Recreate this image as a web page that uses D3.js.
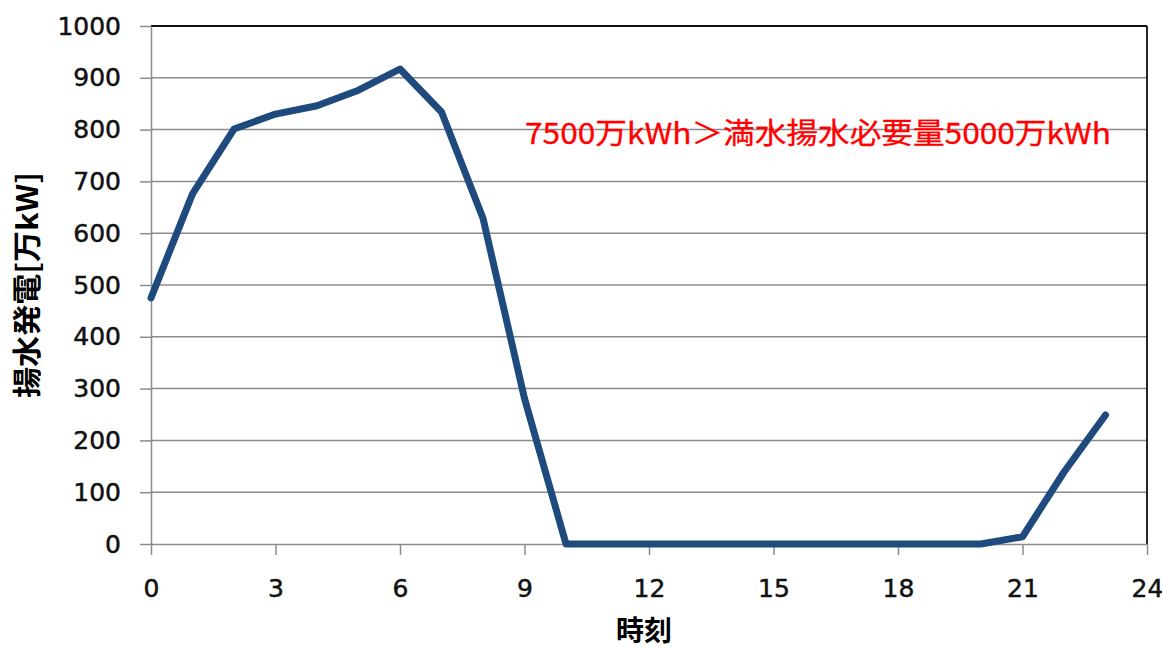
<!DOCTYPE html>
<html>
<head>
<meta charset="utf-8">
<script src="https://cdn.jsdelivr.net/npm/d3@7"></script>
<style>
  html, body { margin: 0; padding: 0; background: #ffffff; }
  svg { display: block; }
</style>
</head>
<body>
<svg id="chart" width="1162" height="649"></svg>
<script>
// Hourly pumped-storage generation output [万kW]
const hours = [0, 1, 2, 3, 4, 5, 6, 7, 8, 9, 10, 11, 12, 13, 14, 15, 16, 17, 18, 19, 20, 21, 22, 23];
const output = [475, 676, 801, 830, 846, 876, 917, 834, 629, 281, 0, 0, 0, 0, 0, 0, 0, 0, 0, 0, 0, 14, 139, 249];

const xTicks = [0, 3, 6, 9, 12, 15, 18, 21, 24];
const yTicks = [0, 100, 200, 300, 400, 500, 600, 700, 800, 900, 1000];

const yTitle = "揚水発電[万kW]";
const xTitle = "時刻";
const note = "7500万kWh＞満水揚水必要量5000万kWh";

const W = 1162, H = 649;
const margin = { left: 151, right: 15, top: 26, bottom: 105 };
const innerW = W - margin.left - margin.right;
const innerH = H - margin.top - margin.bottom;

const svg = d3.select("#chart");
const g = svg.append("g").attr("transform", `translate(${margin.left},${margin.top})`);

const x = d3.scaleLinear().domain([0, 24]).range([0, innerW]);
const y = d3.scaleLinear().domain([0, 1000]).range([innerH, 0]);

const tickFont = "'DejaVu Sans', Verdana, sans-serif";
const cjkFont = "'Noto Sans CJK JP', 'Noto Sans CJK SC', sans-serif";
const gridColor = "#8c8c8c";

// horizontal gridlines
g.append("g")
  .selectAll("line")
  .data(yTicks.filter(d => d > 0 && d < 1000))
  .join("line")
  .attr("x1", 0).attr("x2", innerW)
  .attr("y1", d => y(d)).attr("y2", d => y(d))
  .attr("stroke", gridColor).attr("stroke-width", 1.5);

// plot frame: top and right edges
g.append("line")
  .attr("x1", 0).attr("x2", innerW).attr("y1", y(1000)).attr("y2", y(1000))
  .attr("stroke", "#111").attr("stroke-width", 1.8);
g.append("line")
  .attr("x1", innerW).attr("x2", innerW).attr("y1", y(1000)).attr("y2", y(0))
  .attr("stroke", "#111").attr("stroke-width", 1.8);

// y axis
const yAxis = g.append("g")
  .call(d3.axisLeft(y).tickValues(yTicks).tickSize(11).tickSizeOuter(0).tickPadding(19).tickFormat(d3.format("d")));
yAxis.select(".domain").attr("stroke", gridColor).attr("stroke-width", 1.5);
yAxis.selectAll(".tick line").attr("stroke", gridColor).attr("stroke-width", 1.5);
yAxis.selectAll(".tick text")
  .attr("font-family", tickFont).attr("font-size", 25).attr("fill", "#111")
  .attr("stroke", "#111").attr("stroke-width", 0.5);

// x axis
const xAxis = g.append("g")
  .attr("transform", `translate(0,${innerH})`)
  .call(d3.axisBottom(x).tickValues(xTicks).tickSize(11).tickSizeOuter(0).tickPadding(24).tickFormat(d3.format("d")));
xAxis.select(".domain").attr("stroke", gridColor).attr("stroke-width", 1.5);
xAxis.selectAll(".tick line").attr("stroke", gridColor).attr("stroke-width", 1.5);
xAxis.selectAll(".tick text")
  .attr("font-family", tickFont).attr("font-size", 25).attr("fill", "#111")
  .attr("stroke", "#111").attr("stroke-width", 0.5);

// output line
const line = d3.line()
  .x((d, i) => x(hours[i]))
  .y(d => y(d));
g.append("path")
  .datum(output)
  .attr("d", line)
  .attr("fill", "none")
  .attr("stroke", "#1f4a7e")
  .attr("stroke-width", 7)
  .attr("stroke-linejoin", "round")
  .attr("stroke-linecap", "round");

// annotation
svg.append("text")
  .attr("x", 525).attr("y", 144)
  .attr("font-family", cjkFont).attr("font-size", 29)
  .attr("fill", "#ff0000")
  .attr("stroke", "#ff0000").attr("stroke-width", 0.3)
  .attr("textLength", 586).attr("lengthAdjust", "spacingAndGlyphs")
  .text(note);

// axis titles
svg.append("text")
  .attr("transform", "translate(38,285) rotate(-90)")
  .attr("text-anchor", "middle")
  .attr("font-family", cjkFont).attr("font-size", 29).attr("font-weight", "bold")
  .attr("fill", "#000")
  .attr("textLength", 226).attr("lengthAdjust", "spacingAndGlyphs")
  .text(yTitle);

svg.append("text")
  .attr("x", 644).attr("y", 641)
  .attr("text-anchor", "middle")
  .attr("font-family", cjkFont).attr("font-size", 28).attr("font-weight", "bold")
  .attr("fill", "#000")
  .text(xTitle);
</script>
</body>
</html>
